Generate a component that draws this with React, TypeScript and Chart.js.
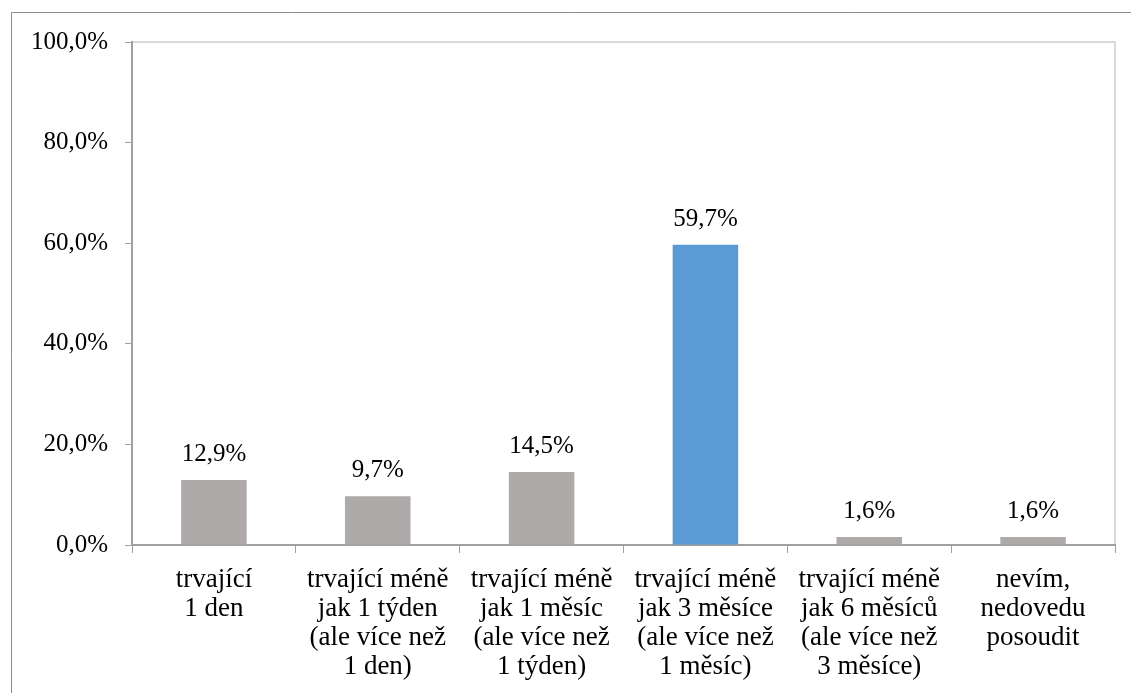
import React, { useEffect, useRef } from "react";
import { Chart, registerables } from "chart.js";

Chart.register(...registerables);

const categories: string[][] = [
  ["trvající", "1 den"],
  ["trvající méně", "jak 1 týden", "(ale více než", "1 den)"],
  ["trvající méně", "jak 1 měsíc", "(ale více než", "1 týden)"],
  ["trvající méně", "jak 3 měsíce", "(ale více než", "1 měsíc)"],
  ["trvající méně", "jak 6 měsíců", "(ale více než", "3 měsíce)"],
  ["nevím,", "nedovedu", "posoudit"],
];
const values: number[] = [12.9, 9.7, 14.5, 59.7, 1.6, 1.6];
const barColors: string[] = ["#aeaaaa", "#aeaaaa", "#aeaaaa", "#5b9bd5", "#aeaaaa", "#aeaaaa"];
const yTicks: number[] = [0, 20, 40, 60, 80, 100];

const FONT = "'Liberation Serif', 'Times New Roman', serif";
const fmt = (v: number) => v.toFixed(1).replace(".", ",") + "%";

const framePlugin = {
  id: "frame",
  beforeDraw(chart: any) {
    const ctx = chart.ctx;
    ctx.save();
    ctx.strokeStyle = "#8c8c8c";
    ctx.lineWidth = 1;
    ctx.beginPath();
    ctx.moveTo(11.5, 693);
    ctx.lineTo(11.5, 12.5);
    ctx.lineTo(1131, 12.5);
    ctx.stroke();
    const a = chart.chartArea;
    ctx.strokeStyle = "#d9d9d9";
    ctx.lineWidth = 2;
    ctx.beginPath();
    ctx.moveTo(a.left, a.top);
    ctx.lineTo(a.right, a.top);
    ctx.lineTo(a.right, a.bottom);
    ctx.stroke();
    ctx.restore();
  },
};

const labelPlugin = {
  id: "valueLabels",
  afterDatasetsDraw(chart: any) {
    const ctx = chart.ctx;
    const meta = chart.getDatasetMeta(0);
    ctx.save();
    ctx.font = `25px ${FONT}`;
    ctx.fillStyle = "#000";
    ctx.textAlign = "center";
    ctx.textBaseline = "alphabetic";
    meta.data.forEach((bar: any, i: number) => {
      ctx.fillText(fmt(values[i]), bar.x, bar.y - 19);
    });
    ctx.restore();
  },
};

export default function App() {
  const ref = useRef<HTMLCanvasElement>(null);
  useEffect(() => {
    if (!ref.current) return;
    const chart = new Chart(ref.current, {
      type: "bar",
      data: {
        labels: categories,
        datasets: [
          {
            data: values,
            backgroundColor: barColors,
            barPercentage: 0.4,
            categoryPercentage: 1,
          },
        ],
      },
      options: {
        animation: false,
        responsive: false,
        maintainAspectRatio: false,
        layout: { padding: { left: 0, top: 42, right: 16, bottom: 0 } },
        plugins: { legend: { display: false }, tooltip: { enabled: false } },
        scales: {
          x: {
            grid: {
              offset: true,
              drawOnChartArea: false,
              drawTicks: true,
              tickLength: 8,
              color: "#a0a0a0",
              lineWidth: 1,
            },
            border: { color: "#a0a0a0", width: 2 },
            ticks: {
              font: { family: FONT, size: 27, lineHeight: "29px" },
              color: "#000",
              padding: 12,
              maxRotation: 0,
              autoSkip: false,
            },
            afterFit(scale: any) {
              scale.height = 148;
            },
          },
          y: {
            min: 0,
            max: 100,
            afterBuildTicks(scale: any) {
              scale.ticks = yTicks.map((v) => ({ value: v }));
            },
            grid: {
              drawOnChartArea: false,
              drawTicks: true,
              tickLength: 7,
              color: "#a0a0a0",
            },
            border: { color: "#a0a0a0", width: 2 },
            ticks: {
              font: { family: FONT, size: 25 },
              color: "#000",
              padding: 17,
              callback: (v: any) => fmt(Number(v)),
            },
            afterFit(scale: any) {
              scale.width = 132;
            },
          },
        },
      },
      plugins: [framePlugin, labelPlugin],
    });
    return () => chart.destroy();
  }, []);
  return (
    <div style={{ position: "absolute", left: 0, top: 0, width: 1131, height: 693, background: "#fff" }}>
      <canvas ref={ref} width={1131} height={693} style={{ display: "block" }} />
    </div>
  );
}
